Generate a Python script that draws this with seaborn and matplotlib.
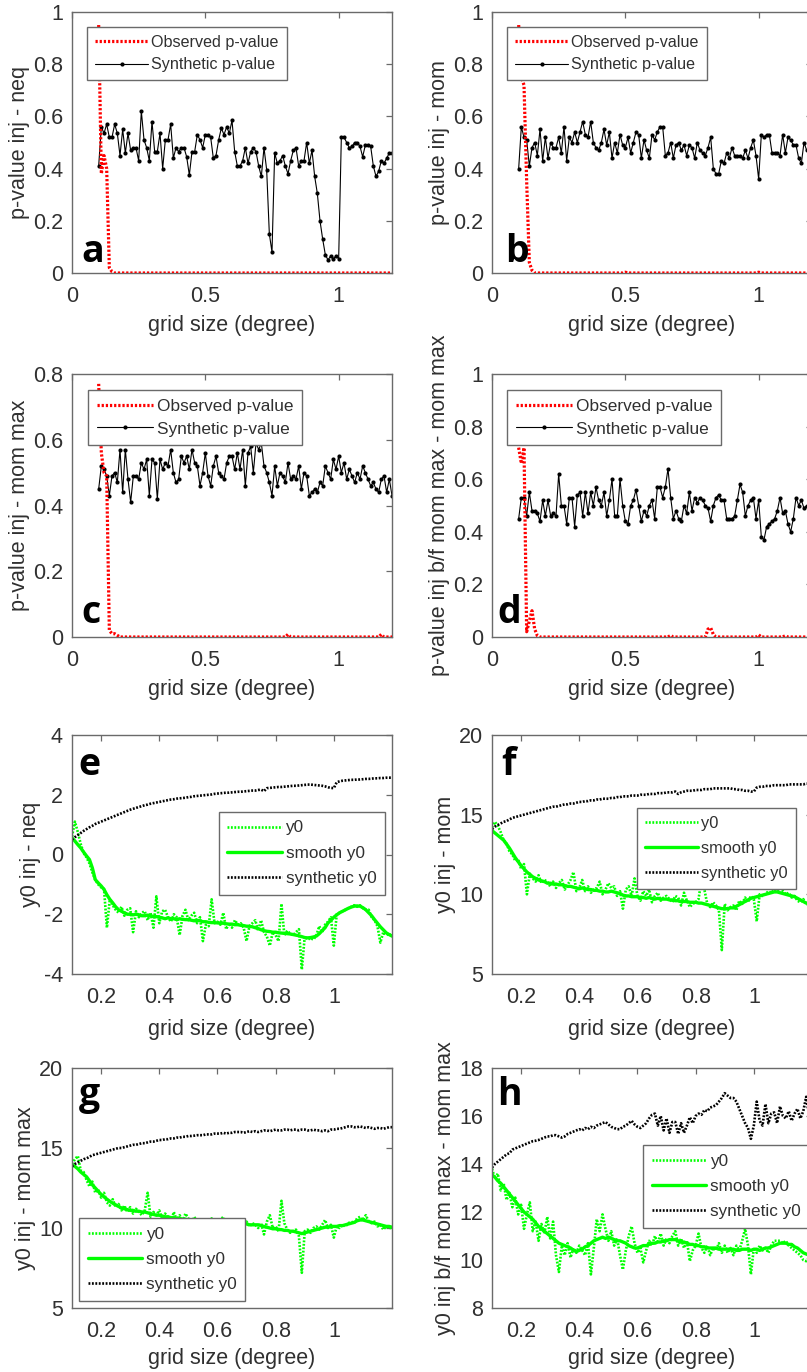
import numpy as np
import pandas as pd
import matplotlib
matplotlib.use("Agg")
import matplotlib.pyplot as plt
import seaborn as sns
from matplotlib.ticker import FuncFormatter

# ---------------- data ----------------
grid_size = np.round(np.linspace(0.10, 1.20, 111), 2)

obs_a = [0.95, 0.38, 0.45, 0.40, 0.02, 0.005, 0.0, 0.0, 0.0, 0.0,
         0.0, 0.0, 0.0, 0.0, 0.0, 0.0, 0.0, 0.0, 0.0, 0.0,
         0.0, 0.0, 0.0, 0.0, 0.0, 0.0, 0.0, 0.0, 0.0, 0.0,
         0.0, 0.0, 0.0, 0.0, 0.0, 0.0, 0.0, 0.0, 0.0, 0.0,
         0.0, 0.0, 0.0, 0.0, 0.0, 0.0, 0.0, 0.0, 0.0, 0.0,
         0.0, 0.0, 0.0, 0.0, 0.0, 0.0, 0.0, 0.0, 0.0, 0.0,
         0.0, 0.0, 0.0, 0.0, 0.0, 0.0, 0.0, 0.0, 0.0, 0.0,
         0.0, 0.0, 0.0, 0.0, 0.0, 0.0, 0.0, 0.0, 0.0, 0.0,
         0.0, 0.0, 0.0, 0.0, 0.0, 0.0, 0.0, 0.0, 0.0, 0.0,
         0.0, 0.0, 0.0, 0.0, 0.0, 0.0, 0.0, 0.0, 0.0, 0.0,
         0.0, 0.0, 0.0, 0.0, 0.0, 0.0, 0.0, 0.0, 0.0, 0.0,
         0.0]
syn_a = [0.41, 0.56, 0.535, 0.57, 0.52, 0.52, 0.57, 0.535, 0.45, 0.55,
         0.46, 0.535, 0.47, 0.48, 0.48, 0.43, 0.62, 0.51, 0.48, 0.43,
         0.58, 0.465, 0.465, 0.535, 0.40, 0.51, 0.51, 0.57, 0.44, 0.48,
         0.465, 0.48, 0.48, 0.445, 0.375, 0.465, 0.465, 0.53, 0.51, 0.48,
         0.53, 0.53, 0.52, 0.44, 0.45, 0.51, 0.555, 0.53, 0.56, 0.535,
         0.585, 0.465, 0.41, 0.41, 0.43, 0.48, 0.42, 0.465, 0.48, 0.465,
         0.41, 0.37, 0.48, 0.395, 0.15, 0.08, 0.46, 0.42, 0.43, 0.45,
         0.41, 0.38, 0.43, 0.47, 0.48, 0.41, 0.43, 0.43, 0.50, 0.42,
         0.47, 0.37, 0.305, 0.20, 0.13, 0.07, 0.05, 0.065, 0.055, 0.065,
         0.055, 0.52, 0.52, 0.50, 0.48, 0.485, 0.50, 0.50, 0.485, 0.445,
         0.49, 0.49, 0.485, 0.41, 0.37, 0.39, 0.43, 0.42, 0.44, 0.46,
         0.46]

obs_b = [0.95, 0.75, 0.72, 0.35, 0.04, 0.01, 0.0, 0.0, 0.0, 0.0,
         0.0, 0.0, 0.0, 0.0, 0.0, 0.0, 0.0, 0.0, 0.0, 0.0,
         0.0, 0.0, 0.0, 0.0, 0.0, 0.0, 0.0, 0.0, 0.0, 0.0,
         0.0, 0.0, 0.0, 0.0, 0.0, 0.0, 0.0, 0.0, 0.0, 0.0,
         0.003, 0.0, 0.0, 0.0, 0.0, 0.0, 0.0, 0.0, 0.0, 0.0,
         0.0, 0.0, 0.0, 0.0, 0.0, 0.0, 0.0, 0.0, 0.0, 0.0,
         0.0, 0.0, 0.0, 0.0, 0.0, 0.0, 0.0, 0.0, 0.0, 0.0,
         0.0, 0.0, 0.0, 0.0, 0.0, 0.0, 0.0, 0.0, 0.0, 0.0,
         0.0, 0.0, 0.0, 0.0, 0.0, 0.0, 0.0, 0.0, 0.0, 0.0,
         0.003, 0.0, 0.0, 0.0, 0.0, 0.0, 0.0, 0.0, 0.0, 0.0,
         0.0, 0.0, 0.0, 0.0, 0.0, 0.0, 0.0, 0.0, 0.0, 0.0,
         0.0]
syn_b = [0.40, 0.56, 0.52, 0.51, 0.41, 0.48, 0.50, 0.45, 0.55, 0.43,
         0.52, 0.44, 0.50, 0.48, 0.48, 0.52, 0.46, 0.56, 0.43, 0.52,
         0.50, 0.54, 0.50, 0.54, 0.58, 0.53, 0.52, 0.58, 0.50, 0.48,
         0.47, 0.50, 0.55, 0.49, 0.54, 0.44, 0.50, 0.46, 0.53, 0.49,
         0.48, 0.52, 0.46, 0.50, 0.54, 0.53, 0.44, 0.51, 0.47, 0.44,
         0.53, 0.51, 0.54, 0.56, 0.56, 0.45, 0.46, 0.50, 0.44, 0.49,
         0.50, 0.47, 0.49, 0.45, 0.49, 0.48, 0.44, 0.50, 0.47, 0.46,
         0.45, 0.48, 0.52, 0.40, 0.38, 0.38, 0.43, 0.42, 0.46, 0.44,
         0.48, 0.45, 0.45, 0.45, 0.44, 0.47, 0.44, 0.48, 0.51, 0.45,
         0.36, 0.53, 0.52, 0.53, 0.53, 0.46, 0.46, 0.46, 0.45, 0.53,
         0.46, 0.52, 0.51, 0.49, 0.49, 0.44, 0.42, 0.50, 0.47, 0.45,
         0.48]

obs_c = [0.77, 0.56, 0.50, 0.49, 0.02, 0.01, 0.01, 0.005, 0.0, 0.0,
         0.0, 0.0, 0.0, 0.0, 0.0, 0.0, 0.0, 0.0, 0.0, 0.0,
         0.0, 0.0, 0.0, 0.0, 0.0, 0.0, 0.0, 0.0, 0.0, 0.0,
         0.0, 0.0, 0.0, 0.0, 0.0, 0.0, 0.0, 0.0, 0.0, 0.0,
         0.0, 0.0, 0.0, 0.0, 0.0, 0.0, 0.0, 0.0, 0.0, 0.0,
         0.0, 0.0, 0.0, 0.0, 0.0, 0.0, 0.0, 0.0, 0.0, 0.0,
         0.0, 0.0, 0.0, 0.0, 0.0, 0.0, 0.0, 0.0, 0.0, 0.0,
         0.0, 0.008, 0.0, 0.0, 0.0, 0.0, 0.0, 0.0, 0.0, 0.0,
         0.0, 0.0, 0.0, 0.0, 0.0, 0.0, 0.0, 0.0, 0.0, 0.0,
         0.0, 0.0, 0.0, 0.0, 0.0, 0.0, 0.0, 0.0, 0.0, 0.0,
         0.0, 0.0, 0.0, 0.0, 0.0, 0.0, 0.008, 0.0, 0.0, 0.0,
         0.0]
syn_c = [0.45, 0.52, 0.51, 0.49, 0.43, 0.49, 0.50, 0.47, 0.57, 0.44,
         0.57, 0.48, 0.41, 0.49, 0.49, 0.48, 0.53, 0.51, 0.54, 0.43,
         0.54, 0.53, 0.42, 0.54, 0.51, 0.53, 0.52, 0.57, 0.50, 0.47,
         0.48, 0.55, 0.53, 0.55, 0.51, 0.57, 0.53, 0.52, 0.46, 0.50,
         0.56, 0.49, 0.46, 0.52, 0.55, 0.50, 0.49, 0.48, 0.53, 0.55,
         0.55, 0.51, 0.56, 0.51, 0.57, 0.46, 0.56, 0.58, 0.50, 0.59,
         0.57, 0.59, 0.52, 0.50, 0.47, 0.43, 0.52, 0.46, 0.50, 0.49,
         0.47, 0.53, 0.48, 0.49, 0.48, 0.52, 0.45, 0.50, 0.49, 0.43,
         0.44, 0.45, 0.44, 0.47, 0.46, 0.52, 0.50, 0.48, 0.54, 0.51,
         0.55, 0.50, 0.53, 0.48, 0.51, 0.49, 0.47, 0.50, 0.48, 0.52,
         0.50, 0.48, 0.46, 0.47, 0.45, 0.44, 0.48, 0.49, 0.44, 0.48,
         0.43]

obs_d = [0.72, 0.66, 0.72, 0.02, 0.06, 0.10, 0.03, 0.005, 0.0, 0.0,
         0.0, 0.0, 0.0, 0.0, 0.0, 0.0, 0.0, 0.0, 0.0, 0.0,
         0.0, 0.0, 0.0, 0.0, 0.0, 0.0, 0.0, 0.0, 0.0, 0.0,
         0.0, 0.0, 0.0, 0.0, 0.0, 0.0, 0.0, 0.0, 0.0, 0.0,
         0.0, 0.0, 0.0, 0.0, 0.0, 0.0, 0.0, 0.0, 0.0, 0.0,
         0.0, 0.0, 0.0, 0.0, 0.0, 0.0, 0.0, 0.006, 0.0, 0.0,
         0.0, 0.0, 0.0, 0.0, 0.0, 0.0, 0.0, 0.0, 0.0, 0.0,
         0.0, 0.03, 0.035, 0.01, 0.0, 0.0, 0.0, 0.0, 0.0, 0.0,
         0.0, 0.0, 0.0, 0.0, 0.0, 0.0, 0.0, 0.0, 0.0, 0.0,
         0.008, 0.0, 0.0, 0.0, 0.0, 0.0, 0.0, 0.0, 0.0, 0.0,
         0.005, 0.0, 0.0, 0.0, 0.0, 0.0, 0.0, 0.0, 0.0, 0.0,
         0.0]
syn_d = [0.45, 0.53, 0.53, 0.46, 0.55, 0.48, 0.48, 0.47, 0.44, 0.52,
         0.46, 0.52, 0.46, 0.47, 0.46, 0.62, 0.50, 0.50, 0.43, 0.53,
         0.53, 0.42, 0.54, 0.55, 0.46, 0.55, 0.47, 0.55, 0.50, 0.57,
         0.52, 0.50, 0.55, 0.46, 0.52, 0.60, 0.46, 0.46, 0.60, 0.50,
         0.44, 0.43, 0.50, 0.52, 0.56, 0.50, 0.44, 0.48, 0.46, 0.50,
         0.52, 0.45, 0.57, 0.57, 0.53, 0.57, 0.64, 0.53, 0.45, 0.48,
         0.45, 0.44, 0.50, 0.47, 0.55, 0.48, 0.53, 0.51, 0.53, 0.52,
         0.50, 0.49, 0.44, 0.50, 0.53, 0.54, 0.52, 0.52, 0.45, 0.45,
         0.45, 0.46, 0.52, 0.58, 0.55, 0.46, 0.50, 0.52, 0.53, 0.45,
         0.52, 0.38, 0.37, 0.42, 0.43, 0.44, 0.45, 0.48, 0.53, 0.47,
         0.48, 0.43, 0.40, 0.45, 0.53, 0.50, 0.52, 0.49, 0.50, 0.48,
         0.50]

y0_e = [0.60, 1.10, 0.75, 0.35, 0.05, -0.10, -0.30, -0.60, -0.85, -1.00,
        -1.10, -1.15, -2.45, -1.50, -1.70, -1.85, -1.95, -1.75, -2.05, -1.85,
        -1.80, -2.60, -1.90, -2.10, -1.95, -1.90, -2.20, -1.95, -2.45, -1.40,
        -2.30, -1.90, -1.85, -2.10, -2.25, -2.00, -2.10, -2.70, -2.05, -1.85,
        -2.20, -2.05, -1.95, -2.30, -2.10, -2.90, -2.35, -2.40, -1.50, -2.30,
        -2.25, -2.35, -1.95, -2.50, -2.30, -2.45, -2.20, -2.35, -2.30, -2.45,
        -2.90, -2.40, -2.30, -2.20, -2.55, -2.20, -2.60, -2.75, -3.05, -2.60,
        -2.70, -2.90, -1.65, -2.70, -2.55, -2.65, -2.70, -2.60, -2.50, -3.85,
        -2.75, -2.85, -2.80, -2.85, -2.70, -2.40, -2.60, -2.35, -2.25, -2.10,
        -3.05, -2.00, -1.95, -1.90, -1.85, -1.80, -1.75, -1.70, -1.75, -1.70,
        -1.80, -1.85, -1.85, -2.10, -2.20, -2.40, -2.95, -2.60, -2.70, -2.65,
        -2.75]
smooth_e = [0.56, 0.45, 0.33, 0.22, 0.08, -0.05, -0.17, -0.45, -0.84, -0.95,
            -1.05, -1.17, -1.35, -1.50, -1.62, -1.75, -1.85, -1.90, -1.95, -2.00,
            -2.00, -2.02, -2.00, -2.02, -2.05, -2.05, -2.03, -2.05, -2.08, -2.08,
            -2.10, -2.12, -2.15, -2.12, -2.15, -2.15, -2.18, -2.15, -2.17, -2.18,
            -2.18, -2.20, -2.22, -2.20, -2.22, -2.25, -2.25, -2.27, -2.28, -2.28,
            -2.29, -2.30, -2.30, -2.32, -2.33, -2.33, -2.35, -2.35, -2.37, -2.38,
            -2.40, -2.40, -2.42, -2.45, -2.48, -2.52, -2.55, -2.57, -2.58, -2.60,
            -2.60, -2.62, -2.63, -2.64, -2.65, -2.66, -2.68, -2.70, -2.72, -2.75,
            -2.78, -2.79, -2.78, -2.76, -2.73, -2.65, -2.55, -2.45, -2.29, -2.20,
            -2.10, -2.02, -1.95, -1.90, -1.85, -1.80, -1.76, -1.73, -1.72, -1.73,
            -1.78, -1.85, -1.95, -2.05, -2.18, -2.30, -2.42, -2.52, -2.62, -2.68,
            -2.73]
synth_e = [0.50, 0.58, 0.65, 0.72, 0.79, 0.85, 0.91, 0.96, 1.02, 1.06,
           1.10, 1.14, 1.18, 1.22, 1.26, 1.30, 1.34, 1.38, 1.42, 1.46,
           1.50, 1.53, 1.56, 1.59, 1.62, 1.65, 1.67, 1.70, 1.72, 1.74,
           1.76, 1.78, 1.80, 1.82, 1.84, 1.85, 1.87, 1.88, 1.89, 1.90,
           1.92, 1.93, 1.95, 1.96, 1.97, 1.98, 1.99, 2.00, 2.01, 2.03,
           2.04, 2.05, 2.06, 2.07, 2.07, 2.08, 2.09, 2.10, 2.10, 2.11,
           2.12, 2.13, 2.14, 2.14, 2.16, 2.17, 2.12, 2.22, 2.23, 2.24,
           2.25, 2.26, 2.26, 2.27, 2.28, 2.29, 2.30, 2.30, 2.31, 2.32,
           2.33, 2.34, 2.34, 2.33, 2.32, 2.31, 2.30, 2.28, 2.25, 2.23,
           2.22, 2.42, 2.45, 2.47, 2.48, 2.49, 2.50, 2.50, 2.51, 2.51,
           2.52, 2.53, 2.53, 2.54, 2.55, 2.55, 2.56, 2.56, 2.57, 2.57,
           2.58]

y0_f = [14.2, 14.55, 14.3, 13.9, 13.4, 13.2, 12.7, 12.5, 12.1, 12.2,
        11.6, 11.9, 10.0, 11.3, 11.0, 10.8, 11.2, 10.7, 10.9, 10.8,
        10.5, 10.8, 10.4, 10.7, 10.9, 10.3, 10.6, 10.9, 11.4, 10.2,
        10.4, 10.9, 10.2, 10.5, 10.1, 10.3, 10.4, 10.8, 10.0, 10.3,
        10.7, 10.4, 10.5, 9.9, 10.2, 9.1, 10.3, 10.5, 9.9, 11.0,
        9.9, 9.6, 10.2, 9.9, 10.3, 9.5, 9.9, 10.1, 9.6, 9.8,
        9.9, 9.7, 9.5, 9.9, 9.8, 9.3, 10.1, 9.6, 9.2, 9.4,
        9.5, 9.7, 10.9, 10.3, 9.4, 9.2, 9.5, 9.3, 9.0, 6.5,
        9.4, 9.0, 9.2, 9.3, 9.0, 9.6, 9.4, 9.8, 9.5, 9.9,
        9.7, 8.3, 10.0, 9.9, 10.0, 10.2, 10.1, 10.3, 10.2, 10.4,
        10.2, 10.0, 10.1, 9.8, 9.9, 9.6, 9.5, 9.7, 9.4, 9.3,
        9.3]
smooth_f = [14.0, 13.85, 13.7, 13.55, 13.4, 13.15, 12.9, 12.6, 12.3, 12.05,
            11.8, 11.6, 11.4, 11.25, 11.1, 11.0, 10.9, 10.85, 10.8, 10.7,
            10.7, 10.65, 10.65, 10.6, 10.6, 10.55, 10.5, 10.5, 10.45, 10.4,
            10.35, 10.4, 10.35, 10.3, 10.3, 10.25, 10.25, 10.2, 10.2, 10.15,
            10.15, 10.2, 10.15, 10.1, 10.05, 9.95, 9.9, 9.9, 9.85, 9.85,
            9.85, 9.8, 9.8, 9.75, 9.8, 9.75, 9.7, 9.75, 9.7, 9.7,
            9.7, 9.65, 9.65, 9.6, 9.6, 9.55, 9.55, 9.55, 9.5, 9.5,
            9.5, 9.45, 9.45, 9.4, 9.35, 9.3, 9.25, 9.2, 9.15, 9.1,
            9.1, 9.1, 9.15, 9.15, 9.25, 9.35, 9.45, 9.55, 9.65, 9.75,
            9.8, 9.85, 9.9, 9.95, 10.0, 10.05, 10.1, 10.15, 10.15, 10.1,
            10.05, 10.0, 9.95, 9.9, 9.85, 9.75, 9.65, 9.55, 9.45, 9.4,
            9.35]
synth_f = [14.1, 14.25, 14.35, 14.45, 14.55, 14.6, 14.7, 14.8, 14.85, 14.9,
           14.95, 15.0, 15.05, 15.1, 15.15, 15.2, 15.25, 15.3, 15.35, 15.4,
           15.45, 15.5, 15.5, 15.55, 15.6, 15.65, 15.65, 15.7, 15.7, 15.75,
           15.8, 15.8, 15.85, 15.85, 15.9, 15.9, 15.95, 15.95, 16.0, 16.0,
           16.0, 16.05, 16.05, 16.1, 16.1, 16.15, 16.15, 16.15, 16.2, 16.2,
           16.2, 16.25, 16.25, 16.25, 16.3, 16.3, 16.3, 16.35, 16.35, 16.35,
           16.4, 16.4, 16.4, 16.45, 16.3, 16.4, 16.45, 16.5, 16.5, 16.5,
           16.55, 16.55, 16.55, 16.6, 16.6, 16.6, 16.65, 16.65, 16.65, 16.65,
           16.65, 16.65, 16.65, 16.6, 16.6, 16.55, 16.55, 16.5, 16.5, 16.45,
           16.45, 16.7, 16.75, 16.75, 16.8, 16.8, 16.8, 16.85, 16.85, 16.85,
           16.85, 16.85, 16.9, 16.9, 16.9, 16.9, 16.9, 16.9, 16.95, 16.95,
           16.95]

y0_g = [14.0, 14.3, 14.5, 13.6, 13.5, 13.0, 12.6, 12.9, 12.2, 12.4,
        11.9, 12.2, 11.6, 11.4, 11.8, 11.3, 11.5, 11.1, 11.4, 11.0,
        11.3, 10.9, 11.2, 11.0, 10.8, 11.1, 12.2, 10.7, 11.0, 10.8,
        11.1, 10.6, 10.9, 10.7, 10.4, 11.0, 10.5, 10.8, 10.4, 10.9,
        10.6, 10.3, 10.7, 10.4, 10.6, 10.3, 10.5, 10.2, 10.6, 10.4,
        10.1, 10.5, 10.7, 10.2, 10.4, 10.1, 10.3, 10.4, 10.1, 10.3,
        10.4, 10.1, 10.3, 10.2, 10.0, 10.3, 9.6, 10.4, 10.8, 10.0,
        10.1, 9.8, 11.7, 10.3, 9.9, 9.7, 9.8, 9.9, 9.5, 7.2,
        9.8, 9.9, 9.7, 10.0, 10.1, 9.9, 10.2, 10.5, 10.0, 10.2,
        9.4, 10.1, 10.0, 10.2, 10.1, 10.3, 10.4, 10.3, 10.6, 10.7,
        10.5, 10.8, 10.4, 10.3, 10.4, 10.1, 10.2, 9.9, 10.1, 10.0,
        10.0]
smooth_g = [13.95, 13.85, 13.7, 13.5, 13.35, 13.2, 12.95, 12.7, 12.5, 12.3,
            12.1, 11.95, 11.8, 11.67, 11.55, 11.45, 11.35, 11.25, 11.2, 11.15,
            11.1, 11.1, 11.05, 11.05, 11.0, 11.0, 10.95, 10.9, 10.85, 10.8,
            10.8, 10.75, 10.7, 10.7, 10.65, 10.65, 10.6, 10.6, 10.55, 10.55,
            10.5, 10.5, 10.5, 10.45, 10.45, 10.4, 10.4, 10.35, 10.35, 10.3,
            10.3, 10.3, 10.3, 10.3, 10.25, 10.25, 10.25, 10.2, 10.2, 10.25,
            10.25, 10.2, 10.2, 10.2, 10.2, 10.15, 10.1, 10.05, 10.0, 9.95,
            9.95, 9.9, 9.9, 9.85, 9.85, 9.8, 9.8, 9.75, 9.7, 9.65,
            9.7, 9.75, 9.8, 9.85, 9.9, 9.95, 10.0, 10.05, 10.05, 10.1,
            10.1, 10.1, 10.15, 10.15, 10.2, 10.25, 10.3, 10.35, 10.45, 10.5,
            10.5, 10.45, 10.4, 10.35, 10.3, 10.25, 10.2, 10.15, 10.1, 10.1,
            10.05]
synth_g = [13.85, 14.0, 14.1, 14.2, 14.3, 14.35, 14.45, 14.55, 14.6, 14.65,
           14.7, 14.75, 14.8, 14.85, 14.9, 14.95, 15.0, 15.0, 15.05, 15.1,
           15.15, 15.2, 15.2, 15.25, 15.3, 15.3, 15.35, 15.4, 15.4, 15.45,
           15.5, 15.5, 15.55, 15.55, 15.6, 15.6, 15.65, 15.65, 15.7, 15.7,
           15.75, 15.75, 15.77, 15.8, 15.8, 15.8, 15.85, 15.85, 15.85, 15.9,
           15.9, 15.9, 15.95, 15.9, 15.95, 15.95, 16.0, 16.0, 16.0, 15.95,
           16.0, 16.05, 16.0, 16.05, 16.0, 16.05, 16.1, 16.1, 16.05, 16.1,
           16.15, 16.1, 16.1, 16.15, 16.15, 16.1, 16.15, 16.15, 16.1, 16.15,
           16.15, 16.1, 16.1, 16.15, 16.1, 16.1, 16.05, 16.1, 16.05, 16.15,
           16.15, 16.2, 16.2, 16.25, 16.3, 16.35, 16.35, 16.3, 16.3, 16.35,
           16.3, 16.25, 16.3, 16.25, 16.2, 16.25, 16.25, 16.2, 16.25, 16.3,
           16.3]

y0_h = [13.8, 13.4, 13.6, 12.9, 13.2, 12.5, 12.8, 12.2, 12.6, 11.9,
        12.3, 11.3, 11.9, 12.4, 11.2, 11.6, 10.8, 11.5, 11.1, 11.8,
        10.9, 11.6, 10.2, 9.5, 10.6, 10.2, 10.7, 10.1, 10.5, 10.3,
        10.6, 10.4, 10.2, 10.7, 9.4, 10.5, 11.7, 11.2, 11.9, 11.3,
        10.8, 11.2, 10.6, 10.9, 10.2, 9.6, 10.4, 11.0, 11.4, 10.7,
        10.3, 10.5, 9.9, 10.4, 10.8, 10.6, 11.0, 10.7, 11.1, 10.6,
        10.9, 10.7, 11.0, 11.2, 10.6, 10.9, 10.5, 10.8, 9.95, 10.4,
        10.6, 11.1, 10.5, 10.3, 10.6, 10.2, 10.5, 10.4, 10.7, 10.3,
        10.6, 10.3, 10.5, 10.2, 10.6, 10.4, 10.8, 11.3, 10.6, 9.4,
        10.5, 10.3, 10.6, 10.4, 10.5, 10.3, 10.6, 10.8, 10.8, 10.8,
        10.7, 10.8, 10.6, 10.5, 10.4, 10.3, 10.2, 10.0, 9.95, 10.1,
        10.0]
smooth_h = [13.55, 13.45, 13.3, 13.2, 13.05, 12.9, 12.75, 12.6, 12.45, 12.3,
            12.15, 12.0, 11.9, 11.8, 11.7, 11.55, 11.4, 11.3, 11.2, 11.1,
            11.0, 10.9, 10.8, 10.7, 10.65, 10.6, 10.55, 10.5, 10.4, 10.35,
            10.4, 10.45, 10.55, 10.6, 10.7, 10.8, 10.85, 10.9, 10.95, 10.9,
            10.95, 10.9, 10.85, 10.8, 10.8, 10.75, 10.7, 10.6, 10.55, 10.5,
            10.5, 10.55, 10.6, 10.6, 10.65, 10.7, 10.7, 10.75, 10.75, 10.8,
            10.8, 10.85, 10.85, 10.85, 10.8, 10.75, 10.75, 10.7, 10.65, 10.65,
            10.6, 10.6, 10.55, 10.55, 10.5, 10.5, 10.5, 10.5, 10.45, 10.45,
            10.45, 10.45, 10.45, 10.45, 10.4, 10.4, 10.45, 10.45, 10.45, 10.4,
            10.45, 10.45, 10.4, 10.45, 10.5, 10.5, 10.55, 10.6, 10.65, 10.7,
            10.7, 10.7, 10.65, 10.65, 10.55, 10.5, 10.4, 10.3, 10.25, 10.2,
            10.15]
synth_h = [13.85, 14.0, 14.1, 14.2, 14.3, 14.4, 14.45, 14.6, 14.65, 14.7,
           14.75, 14.8, 14.85, 14.9, 14.95, 14.97, 15.0, 15.05, 15.1, 15.15,
           15.15, 15.2, 15.2, 15.15, 15.1, 15.15, 15.25, 15.3, 15.35, 15.4,
           15.45, 15.4, 15.5, 15.45, 15.55, 15.5, 15.6, 15.65, 15.7, 15.75,
           15.65, 15.55, 15.5, 15.45, 15.45, 15.55, 15.6, 15.7, 15.8, 15.65,
           15.55, 15.5, 15.6, 15.7, 15.9, 16.05, 16.1, 15.6, 16.0, 15.4,
           15.9, 15.3, 15.75, 15.75, 15.25, 15.7, 15.3, 15.6, 15.95, 15.7,
           16.0, 16.1, 16.05, 16.25, 16.2, 16.35, 16.4, 16.45, 16.6, 16.75,
           16.95, 16.85, 16.75, 16.75, 16.6, 16.3, 16.0, 15.7, 15.5, 15.05,
           15.6, 16.6, 15.8, 15.6, 16.5, 15.7, 16.1, 16.15, 15.7, 16.4,
           16.0, 15.9, 16.2, 15.8, 16.1, 16.3, 15.9, 16.2, 16.8, 16.0,
           16.1]

pval_ylabels = ["p-value inj - neq", "p-value inj - mom",
                "p-value inj - mom max", "p-value inj b/f mom max - mom max"]
y0_ylabels = ["y0 inj - neq", "y0 inj - mom",
              "y0 inj - mom max", "y0 inj b/f mom max - mom max"]
panel_letters = ["a", "b", "c", "d", "e", "f", "g", "h"]
xlabel_text = "grid size (degree)"
pval_legend = ["Observed p-value", "Synthetic p-value"]
y0_legend = ["y0", "smooth y0", "synthetic y0"]

# ---------------- style ----------------
sns.set_theme(style="white")
plt.rcParams["font.family"] = ["Liberation Sans", "DejaVu Sans"]
TXT = "#303030"
SPINE = "#6a6a6a"
FS = 15.5

W, H = 807, 1372
fig = plt.figure(figsize=(W / 100, H / 100), dpi=100)
fig.patch.set_facecolor("white")


def add_ax(l, t, r, b):
    return fig.add_axes([l / W, 1 - b / H, (r - l) / W, (b - t) / H])


fmt = FuncFormatter(lambda v, p: f"{v:g}")


def style_ax(ax, xlim, ylim, xticks, yticks, ylabel, xlabelpad):
    ax.set_xlim(*xlim)
    ax.set_ylim(*ylim)
    ax.set_xticks(xticks)
    ax.set_yticks(yticks)
    ax.xaxis.set_major_formatter(fmt)
    ax.yaxis.set_major_formatter(fmt)
    ax.tick_params(direction="in", top=True, right=True, length=4.5, width=0.9,
                   color=SPINE, labelcolor=TXT, labelsize=FS)
    ax.tick_params(axis="x", pad=9.5)
    ax.tick_params(axis="y", pad=6.5)
    for s in ax.spines.values():
        s.set_color(SPINE)
        s.set_linewidth(1.0)
        s.set_visible(True)
    ax.set_xlabel(xlabel_text, fontsize=FS, color=TXT, labelpad=xlabelpad)
    ax.set_ylabel(ylabel, fontsize=FS, color=TXT, labelpad=2.0)
    ax.set_facecolor("white")


def letter(ax, s, x, y):
    ax.text(x, y, s, transform=ax.transAxes, fontsize=27, fontweight="bold",
            family=["Open Sans", "DejaVu Sans"], color="black",
            ha="left", va="baseline", zorder=10)


def make_legend(ax, anchor, fs, hl, ls):
    leg = ax.legend(loc="upper left", bbox_to_anchor=anchor, borderaxespad=0,
                    frameon=True, fancybox=False, edgecolor=SPINE,
                    framealpha=1, fontsize=fs, handlelength=hl,
                    handletextpad=0.2, borderpad=0.5, labelspacing=ls)
    leg.get_frame().set_linewidth(1.0)
    for t in leg.get_texts():
        t.set_color(TXT)
    return leg


dots = (0, (0.7, 0.6))

# ---------- p-value panels ----------
pval_data = [(obs_a, syn_a), (obs_b, syn_b), (obs_c, syn_c), (obs_d, syn_d)]
pval_pos = [(72, 12, 392, 273), (492, 12, 812, 273),
            (72, 374, 392, 637), (492, 374, 812, 637)]
pval_ylims = [(0, 1), (0, 1), (0, 0.8), (0, 1)]
pval_yticks = [[0, 0.2, 0.4, 0.6, 0.8, 1], [0, 0.2, 0.4, 0.6, 0.8, 1],
               [0, 0.2, 0.4, 0.6, 0.8], [0, 0.2, 0.4, 0.6, 0.8, 1]]
pval_letter_xy = [(0.03, 0.042), (0.04, 0.042), (0.028, 0.053), (0.016, 0.053)]
pval_leg_anchor = [(0.047, 0.943), (0.047, 0.943), (0.05, 0.939), (0.047, 0.939)]
pval_leg_fs = [11.6, 11.6, 12.4, 12.4]

for i, (obs, syn) in enumerate(pval_data):
    ax = add_ax(*pval_pos[i])
    df = pd.DataFrame({"grid": grid_size, "obs": obs, "syn": syn})
    sns.lineplot(data=df, x="grid", y="obs", ax=ax, color="#ff0000", lw=2.3,
                 linestyle=dots, label=pval_legend[0], zorder=3,
                 estimator=None, sort=False)
    sns.lineplot(data=df, x="grid", y="syn", ax=ax, color="black", lw=0.8,
                 marker="o", markersize=3.0, markeredgewidth=0,
                 markerfacecolor="black", label=pval_legend[1], zorder=2,
                 estimator=None, sort=False)
    style_ax(ax, (0, 1.2), pval_ylims[i], [0, 0.5, 1], pval_yticks[i],
             pval_ylabels[i], 5.5)
    make_legend(ax, pval_leg_anchor[i], pval_leg_fs[i], 3.3, 0.45)
    letter(ax, panel_letters[i], *pval_letter_xy[i])

# ---------- y0 panels ----------
y0_data = [(y0_e, smooth_e, synth_e), (y0_f, smooth_f, synth_f),
           (y0_g, smooth_g, synth_g), (y0_h, smooth_h, synth_h)]
y0_pos = [(72, 735, 392, 974), (492, 735, 812, 974),
          (72, 1068, 392, 1308), (492, 1068, 812, 1308)]
y0_ylims = [(-4, 4), (5, 20), (5, 20), (8, 18)]
y0_yticks = [[-4, -2, 0, 2, 4], [5, 10, 15, 20], [5, 10, 15, 20],
             [8, 10, 12, 14, 16, 18]]
y0_letter_xy = [(0.02, 0.833), (0.03, 0.833), (0.02, 0.846), (0.016, 0.846)]
y0_leg_anchor = [(0.459, 0.678), (0.453, 0.695), (0.022, 0.375), (0.472, 0.679)]
y0_leg_fs = [12.3, 11.8, 12.3, 12.3]
y0_xlabelpad = [8, 8, 4.5, 4.5]

for i, (raw, smo, syn) in enumerate(y0_data):
    ax = add_ax(*y0_pos[i])
    df = pd.DataFrame({"grid": grid_size, "raw": raw, "smo": smo, "syn": syn})
    sns.lineplot(data=df, x="grid", y="raw", ax=ax, color="#00ff00", lw=1.9,
                 linestyle=dots, label=y0_legend[0], estimator=None, sort=False)
    sns.lineplot(data=df, x="grid", y="smo", ax=ax, color="#00ff00", lw=2.4,
                 label=y0_legend[1], estimator=None, sort=False)
    sns.lineplot(data=df, x="grid", y="syn", ax=ax, color="black", lw=1.9,
                 linestyle=dots, label=y0_legend[2], estimator=None, sort=False)
    style_ax(ax, (0.1, 1.2), y0_ylims[i], [0.2, 0.4, 0.6, 0.8, 1],
             y0_yticks[i], y0_ylabels[i], y0_xlabelpad[i])
    make_legend(ax, y0_leg_anchor[i], y0_leg_fs[i], 3.2, 0.6)
    letter(ax, panel_letters[4 + i], *y0_letter_xy[i])

fig.savefig("out.png", dpi=100, facecolor="white")
